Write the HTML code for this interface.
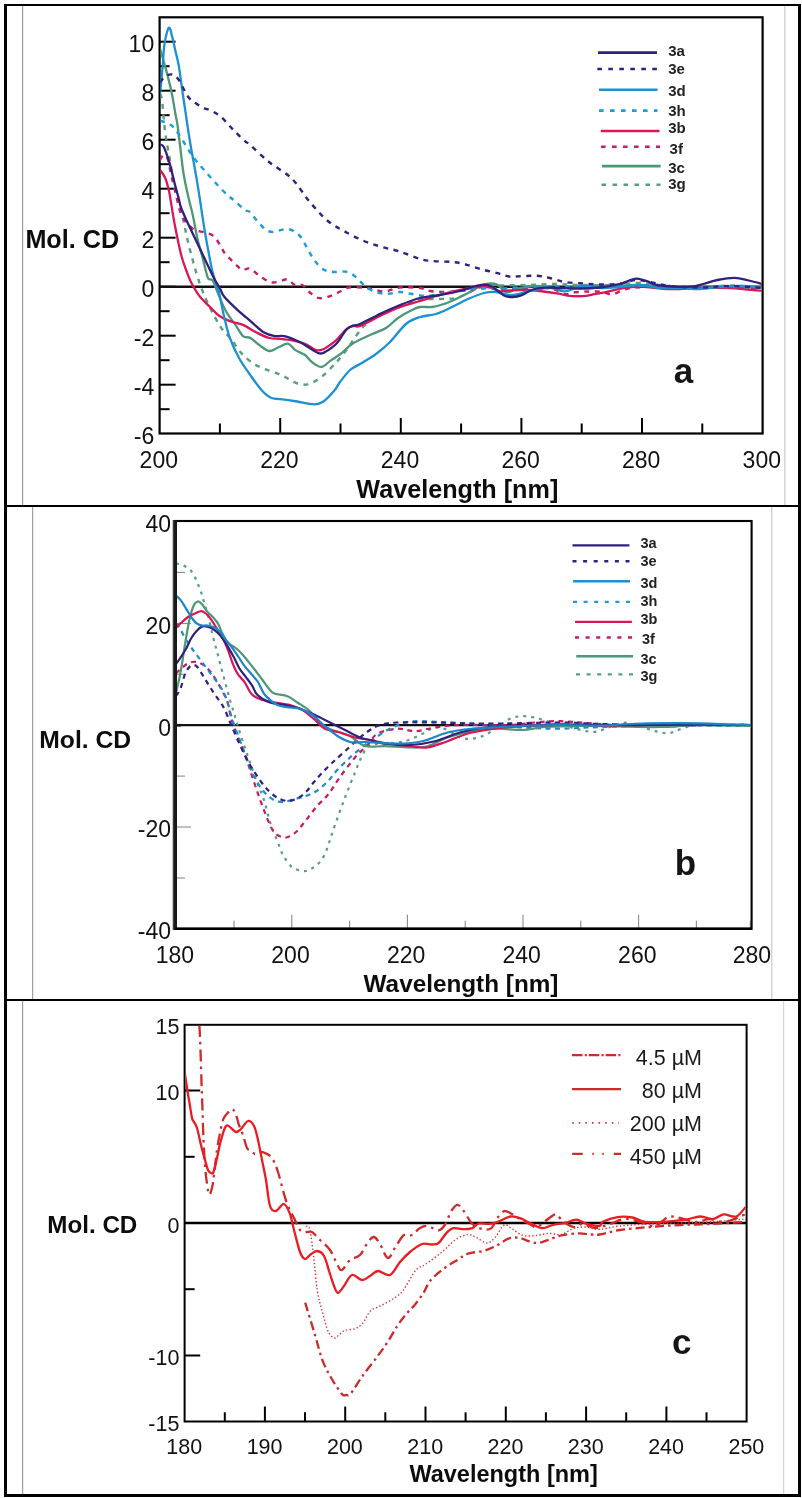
<!DOCTYPE html>
<html><head><meta charset="utf-8"><style>
html,body{margin:0;padding:0;background:#fff;width:802px;height:1498px;overflow:hidden}
svg{display:block;font-family:"Liberation Sans",sans-serif;will-change:transform}
</style></head><body>
<svg width="802" height="1498" viewBox="0 0 802 1498">
<rect width="802" height="1498" fill="#fff"/>
<rect x="22.0" y="6.0" width="1.2" height="499.0" fill="#a0a0a0"/>
<rect x="784.0" y="6.0" width="1.5" height="499.0" fill="#d4d4d4"/>
<rect x="32.0" y="507.0" width="1.2" height="492.0" fill="#a0a0a0"/>
<rect x="771.0" y="507.0" width="1.5" height="492.0" fill="#d4d4d4"/>
<rect x="22.0" y="1001.0" width="1.2" height="493.0" fill="#a0a0a0"/>
<rect x="783.0" y="1001.0" width="1.2" height="493.0" fill="#d4d4d4"/>
<rect x="4.0" y="4.0" width="796.0" height="2.0" fill="#000"/>
<rect x="4.0" y="4.0" width="3.0" height="1493.0" fill="#000"/>
<rect x="798.0" y="4.0" width="3.0" height="1493.0" fill="#000"/>
<rect x="4.0" y="1494.0" width="797.0" height="3.0" fill="#000"/>
<rect x="4.0" y="505.0" width="796.0" height="2.0" fill="#000"/>
<rect x="4.0" y="999.0" width="796.0" height="2.0" fill="#000"/>
<line x1="159.6" y1="409.2" x2="169.6" y2="409.2" stroke="#000" stroke-width="2.00" />
<line x1="159.6" y1="384.7" x2="175.6" y2="384.7" stroke="#000" stroke-width="2.00" />
<line x1="159.6" y1="360.2" x2="169.6" y2="360.2" stroke="#000" stroke-width="2.00" />
<line x1="159.6" y1="335.7" x2="175.6" y2="335.7" stroke="#000" stroke-width="2.00" />
<line x1="159.6" y1="311.2" x2="169.6" y2="311.2" stroke="#000" stroke-width="2.00" />
<line x1="159.6" y1="286.7" x2="175.6" y2="286.7" stroke="#000" stroke-width="2.00" />
<line x1="159.6" y1="262.2" x2="169.6" y2="262.2" stroke="#000" stroke-width="2.00" />
<line x1="159.6" y1="237.7" x2="175.6" y2="237.7" stroke="#000" stroke-width="2.00" />
<line x1="159.6" y1="213.2" x2="169.6" y2="213.2" stroke="#000" stroke-width="2.00" />
<line x1="159.6" y1="188.7" x2="175.6" y2="188.7" stroke="#000" stroke-width="2.00" />
<line x1="159.6" y1="164.2" x2="169.6" y2="164.2" stroke="#000" stroke-width="2.00" />
<line x1="159.6" y1="139.7" x2="175.6" y2="139.7" stroke="#000" stroke-width="2.00" />
<line x1="159.6" y1="115.2" x2="169.6" y2="115.2" stroke="#000" stroke-width="2.00" />
<line x1="159.6" y1="90.7" x2="175.6" y2="90.7" stroke="#000" stroke-width="2.00" />
<line x1="159.6" y1="66.2" x2="169.6" y2="66.2" stroke="#000" stroke-width="2.00" />
<line x1="159.6" y1="41.7" x2="175.6" y2="41.7" stroke="#000" stroke-width="2.00" />
<line x1="219.9" y1="433.5" x2="219.9" y2="423.5" stroke="#000" stroke-width="2.00" />
<line x1="280.2" y1="433.5" x2="280.2" y2="418.0" stroke="#000" stroke-width="2.00" />
<line x1="340.5" y1="433.5" x2="340.5" y2="423.5" stroke="#000" stroke-width="2.00" />
<line x1="400.8" y1="433.5" x2="400.8" y2="418.0" stroke="#000" stroke-width="2.00" />
<line x1="461.1" y1="433.5" x2="461.1" y2="423.5" stroke="#000" stroke-width="2.00" />
<line x1="521.4" y1="433.5" x2="521.4" y2="418.0" stroke="#000" stroke-width="2.00" />
<line x1="581.7" y1="433.5" x2="581.7" y2="423.5" stroke="#000" stroke-width="2.00" />
<line x1="642.0" y1="433.5" x2="642.0" y2="418.0" stroke="#000" stroke-width="2.00" />
<line x1="702.3" y1="433.5" x2="702.3" y2="423.5" stroke="#000" stroke-width="2.00" />
<rect x="159.6" y="17.3" width="603.0" height="416.2" fill="none" stroke="#000" stroke-width="2.2"/>
<line x1="159.6" y1="286.7" x2="762.6" y2="286.7" stroke="#111" stroke-width="2.60" />
<text x="154.2" y="443.6" font-size="23.0" font-weight="normal" text-anchor="end" fill="#111" >-6</text>
<text x="154.2" y="394.6" font-size="23.0" font-weight="normal" text-anchor="end" fill="#111" >-4</text>
<text x="154.2" y="345.6" font-size="23.0" font-weight="normal" text-anchor="end" fill="#111" >-2</text>
<text x="154.2" y="296.6" font-size="23.0" font-weight="normal" text-anchor="end" fill="#111" >0</text>
<text x="154.2" y="247.6" font-size="23.0" font-weight="normal" text-anchor="end" fill="#111" >2</text>
<text x="154.2" y="198.6" font-size="23.0" font-weight="normal" text-anchor="end" fill="#111" >4</text>
<text x="154.2" y="149.6" font-size="23.0" font-weight="normal" text-anchor="end" fill="#111" >6</text>
<text x="154.2" y="100.6" font-size="23.0" font-weight="normal" text-anchor="end" fill="#111" >8</text>
<text x="154.2" y="51.6" font-size="23.0" font-weight="normal" text-anchor="end" fill="#111" >10</text>
<text x="158.8" y="467.6" font-size="23.0" font-weight="normal" text-anchor="middle" fill="#111" >200</text>
<text x="279.4" y="467.6" font-size="23.0" font-weight="normal" text-anchor="middle" fill="#111" >220</text>
<text x="400.0" y="467.6" font-size="23.0" font-weight="normal" text-anchor="middle" fill="#111" >240</text>
<text x="520.6" y="467.6" font-size="23.0" font-weight="normal" text-anchor="middle" fill="#111" >260</text>
<text x="641.2" y="467.6" font-size="23.0" font-weight="normal" text-anchor="middle" fill="#111" >280</text>
<text x="761.8" y="467.6" font-size="23.0" font-weight="normal" text-anchor="middle" fill="#111" >300</text>
<text x="25.4" y="247.9" font-size="25.2" font-weight="bold" text-anchor="start" fill="#0d0d0d" >Mol. CD</text>
<text x="356.3" y="498.1" font-size="25.2" font-weight="bold" text-anchor="start" fill="#0d0d0d" >Wavelength [nm]</text>
<text x="673.8" y="382.5" font-size="35.0" font-weight="bold" text-anchor="start" fill="#151515" >a</text>
<path d="M598.0 52.6 L657.0 52.6" fill="none" stroke="#32207e" stroke-width="2.60" stroke-linejoin="round" />
<text x="668.2" y="55.8" font-size="15.0" font-weight="bold" text-anchor="start" fill="#222" >3a</text>
<path d="M597.3 69.0 L657.0 69.0" fill="none" stroke="#32207e" stroke-width="2.60" stroke-dasharray="4.6 6.4" stroke-linejoin="round" />
<text x="668.2" y="73.6" font-size="15.0" font-weight="bold" text-anchor="start" fill="#222" >3e</text>
<path d="M599.0 89.8 L657.5 89.8" fill="none" stroke="#1b90d2" stroke-width="2.60" stroke-linejoin="round" />
<text x="668.2" y="96.3" font-size="15.0" font-weight="bold" text-anchor="start" fill="#222" >3d</text>
<path d="M599.0 110.6 L657.5 110.6" fill="none" stroke="#1f9bd8" stroke-width="2.60" stroke-dasharray="4.6 6.4" stroke-linejoin="round" />
<text x="668.2" y="115.5" font-size="15.0" font-weight="bold" text-anchor="start" fill="#222" >3h</text>
<path d="M600.8 131.0 L659.5 131.0" fill="none" stroke="#da1656" stroke-width="2.60" stroke-linejoin="round" />
<text x="668.2" y="132.6" font-size="15.0" font-weight="bold" text-anchor="start" fill="#222" >3b</text>
<path d="M601.0 146.8 L660.0 146.8" fill="none" stroke="#c81a6a" stroke-width="2.60" stroke-dasharray="4.6 6.4" stroke-linejoin="round" />
<text x="669.6" y="153.9" font-size="15.0" font-weight="bold" text-anchor="start" fill="#222" >3f</text>
<path d="M602.0 166.1 L660.6 166.1" fill="none" stroke="#4c9876" stroke-width="2.60" stroke-linejoin="round" />
<text x="668.2" y="173.1" font-size="15.0" font-weight="bold" text-anchor="start" fill="#222" >3c</text>
<path d="M601.5 184.7 L660.5 184.7" fill="none" stroke="#5b9d80" stroke-width="2.60" stroke-dasharray="4.6 6.4" stroke-linejoin="round" />
<text x="668.2" y="188.8" font-size="15.0" font-weight="bold" text-anchor="start" fill="#222" >3g</text>
<g clip-path="url(#clipA)">
<clipPath id="clipA"><rect x="160.5" y="18.3" width="601" height="414"/></clipPath>
<path d="M160.0 94.0 C160.3 95.0 161.2 93.8 162.0 100.0 C162.8 106.2 163.9 122.0 165.0 131.0 C166.1 140.0 167.3 145.4 168.8 153.8 C170.2 162.1 172.3 174.4 173.8 181.2 C175.2 188.1 175.8 188.1 177.5 195.0 C179.2 201.9 181.9 214.2 183.8 222.5 C185.6 230.8 186.7 236.7 188.8 245.0 C190.8 253.3 194.0 264.8 196.2 272.5 C198.5 280.2 200.6 286.0 202.5 291.0 C204.4 296.0 205.4 298.0 207.5 302.4 C209.6 306.8 212.5 312.9 215.0 317.4 C217.5 321.9 219.6 325.8 222.4 329.5 C225.2 333.2 228.7 335.9 231.8 339.8 C234.9 343.7 237.4 348.8 241.1 352.9 C244.8 356.9 249.5 361.1 254.2 364.1 C258.9 367.1 264.5 368.8 269.2 370.7 C273.9 372.6 278.1 373.4 282.2 375.3 C286.2 377.2 290.1 380.3 293.5 381.9 C296.9 383.5 299.7 384.5 302.8 384.7 C305.9 384.9 308.7 384.4 312.1 382.8 C315.5 381.2 319.6 378.4 323.4 375.3 C327.1 372.2 331.8 367.0 334.6 364.1 C337.4 361.2 337.8 360.7 340.0 358.0 C342.2 355.3 345.3 351.7 348.0 348.0 C350.7 344.3 353.3 339.7 356.0 336.0 C358.7 332.3 361.0 329.0 364.0 326.0 C367.0 323.0 370.7 320.3 374.0 318.0 C377.3 315.7 379.7 313.8 384.0 312.0 C388.3 310.2 394.0 309.0 400.0 307.0 C406.0 305.0 413.3 301.3 420.0 300.0 C426.7 298.7 434.0 299.3 440.0 299.0 C446.0 298.7 451.0 299.2 456.0 298.0 C461.0 296.8 465.3 294.0 470.0 292.0 C474.7 290.0 479.7 287.1 484.0 286.0 C488.3 284.9 488.8 285.7 496.0 285.5 C503.2 285.3 517.2 285.2 527.0 285.0 C536.8 284.8 546.2 284.0 555.0 284.0 C563.8 284.0 570.8 284.8 580.0 285.0 C589.2 285.2 600.0 285.3 610.0 285.0 C620.0 284.7 630.0 282.8 640.0 283.0 C650.0 283.2 660.0 285.3 670.0 286.0 C680.0 286.7 690.0 287.1 700.0 287.0 C710.0 286.9 719.6 285.5 730.0 285.5 C740.4 285.5 757.2 286.8 762.6 287.0" fill="none" stroke="#5b9d80" stroke-width="2.40" stroke-dasharray="5 5.5" stroke-linejoin="round" />
<path d="M160.0 48.8 C160.8 51.6 163.1 59.0 165.0 66.0 C166.9 73.0 169.5 82.4 171.2 90.6 C173.0 98.8 174.6 109.3 175.6 115.0 C176.6 120.7 176.7 119.2 177.5 125.0 C178.3 130.8 179.6 141.7 180.6 150.0 C181.6 158.3 182.4 166.9 183.8 175.0 C185.1 183.1 187.3 192.3 188.8 198.8 C190.2 205.2 191.0 207.1 192.5 213.8 C194.0 220.4 195.8 231.5 197.5 238.8 C199.2 246.0 200.8 251.1 202.5 257.5 C204.2 263.9 206.2 273.2 207.5 276.9 C208.8 280.5 209.1 278.7 210.0 279.4 C210.9 280.1 211.6 278.4 213.0 281.0 C214.4 283.6 216.5 289.9 218.7 295.0 C220.9 300.1 223.4 306.8 226.2 311.8 C229.0 316.8 232.7 320.8 235.5 324.9 C238.3 328.9 240.5 333.9 243.0 336.1 C245.5 338.3 247.7 336.4 250.5 338.0 C253.3 339.6 256.7 343.2 259.8 345.4 C262.9 347.6 266.1 350.7 269.2 351.0 C272.3 351.3 275.4 348.5 278.5 347.3 C281.6 346.1 285.1 343.1 287.9 343.6 C290.7 344.1 292.5 348.2 295.3 350.1 C298.1 352.0 301.9 352.8 304.7 354.8 C307.5 356.8 309.3 360.2 312.1 362.2 C314.9 364.2 318.4 367.2 321.5 366.9 C324.6 366.6 327.4 362.7 330.8 360.4 C334.2 358.1 338.5 355.6 342.0 352.9 C345.5 350.2 347.3 347.0 352.0 344.0 C356.7 341.0 364.3 337.7 370.0 335.0 C375.7 332.3 381.3 330.8 386.0 328.0 C390.7 325.2 393.7 321.0 398.0 318.0 C402.3 315.0 408.3 311.8 412.0 310.0 C415.7 308.2 416.7 307.5 420.0 307.0 C423.3 306.5 428.0 307.5 432.0 307.0 C436.0 306.5 440.0 305.3 444.0 304.0 C448.0 302.7 451.7 301.0 456.0 299.0 C460.3 297.0 466.0 294.2 470.0 292.0 C474.0 289.8 477.0 287.4 480.0 286.0 C483.0 284.6 485.1 283.8 488.0 283.6 C490.9 283.4 494.4 283.4 497.5 284.9 C500.6 286.3 503.4 291.7 506.8 292.3 C510.2 292.9 513.0 289.7 518.0 288.6 C523.0 287.5 530.5 285.8 536.7 285.8 C542.9 285.8 548.2 288.4 555.4 288.6 C562.6 288.8 570.9 287.4 580.0 287.0 C589.1 286.6 600.0 286.3 610.0 286.0 C620.0 285.7 630.0 284.8 640.0 285.0 C650.0 285.2 660.0 286.5 670.0 287.0 C680.0 287.5 690.0 288.1 700.0 288.0 C710.0 287.9 719.6 286.6 730.0 286.5 C740.4 286.4 757.2 287.3 762.6 287.5" fill="none" stroke="#4c9876" stroke-width="2.30" stroke-linejoin="round" />
<path d="M160.0 160.0 C160.4 159.3 161.7 156.8 162.5 156.0 C163.3 155.2 164.1 154.3 165.0 155.0 C165.9 155.7 167.0 156.7 168.0 160.0 C169.0 163.3 169.9 169.2 171.2 175.0 C172.6 180.8 174.4 188.5 176.0 195.0 C177.6 201.5 179.1 209.0 181.0 213.8 C182.9 218.5 185.2 221.0 187.5 223.8 C189.8 226.5 192.1 228.5 195.0 230.0 C197.9 231.5 201.9 231.5 205.0 232.5 C208.1 233.5 211.2 234.2 213.8 236.2 C216.2 238.3 218.1 242.1 220.0 245.0 C221.9 247.9 223.1 251.2 225.0 253.8 C226.9 256.2 229.2 257.9 231.2 260.0 C233.3 262.1 235.6 264.6 237.5 266.2 C239.4 267.9 240.4 269.6 242.5 270.0 C244.6 270.4 247.2 267.6 250.0 268.5 C252.8 269.4 255.9 273.4 259.3 275.7 C262.7 278.0 267.2 281.3 270.6 282.2 C274.0 283.1 277.1 281.8 279.9 281.3 C282.7 280.8 284.9 278.8 287.4 279.4 C289.9 280.0 292.4 284.1 294.9 285.0 C297.4 285.9 299.8 283.8 302.3 285.0 C304.8 286.2 307.0 290.3 309.8 292.5 C312.6 294.7 315.5 297.6 319.2 298.1 C322.9 298.6 328.5 296.5 332.2 295.3 C335.9 294.1 338.8 292.0 341.6 290.7 C344.4 289.4 345.6 288.0 349.0 287.5 C352.4 287.0 358.4 287.3 362.1 287.5 C365.9 287.7 367.8 288.1 371.5 288.8 C375.2 289.5 379.9 291.8 384.6 291.6 C389.3 291.4 393.6 288.1 399.5 287.5 C405.4 286.9 414.9 287.4 420.0 288.0 C425.1 288.6 426.0 290.3 430.0 291.0 C434.0 291.7 439.0 292.0 444.0 292.0 C449.0 292.0 454.7 291.5 460.0 291.0 C465.3 290.5 471.0 289.5 476.0 289.0 C481.0 288.5 486.0 287.8 490.0 288.0 C494.0 288.2 493.3 290.0 500.0 290.0 C506.7 290.0 521.4 288.2 530.0 288.0 C538.6 287.8 545.9 287.6 551.7 288.6 C557.5 289.6 561.1 293.6 564.8 294.2 C568.5 294.8 569.0 292.8 574.0 292.3 C579.0 291.8 589.6 291.3 594.7 291.4 C599.9 291.5 602.0 292.2 604.9 292.7 C607.8 293.2 609.3 294.6 612.3 294.2 C615.3 293.8 619.0 291.5 622.8 290.4 C626.5 289.3 626.9 288.1 634.8 287.5 C642.7 286.9 659.1 286.9 670.0 287.0 C680.9 287.1 690.0 287.9 700.0 288.0 C710.0 288.1 719.6 287.3 730.0 287.5 C740.4 287.7 757.2 288.8 762.6 289.0" fill="none" stroke="#c81a6a" stroke-width="2.40" stroke-dasharray="5 5.5" stroke-linejoin="round" />
<path d="M160.0 170.0 C160.8 171.2 163.5 174.2 165.0 177.5 C166.5 180.8 167.8 186.2 168.8 190.0 C169.7 193.8 169.6 194.0 170.6 200.0 C171.6 206.0 173.2 216.8 175.0 226.0 C176.8 235.2 179.2 247.0 181.2 255.0 C183.3 263.0 185.6 268.8 187.5 273.8 C189.4 278.8 190.4 281.2 192.5 285.0 C194.6 288.8 197.2 293.3 200.0 296.8 C202.8 300.3 206.2 303.1 209.3 306.2 C212.4 309.3 215.3 313.0 218.7 315.5 C222.1 318.0 225.8 319.5 229.9 321.1 C234.0 322.7 238.6 323.0 243.0 324.9 C247.4 326.8 251.7 330.1 256.1 332.3 C260.5 334.5 265.1 336.9 269.2 338.0 C273.2 339.1 276.3 338.4 280.4 338.9 C284.4 339.3 289.1 339.8 293.5 340.7 C297.9 341.6 302.8 342.9 306.5 344.5 C310.2 346.1 313.1 349.3 315.9 350.1 C318.7 350.9 320.3 350.6 323.4 349.2 C326.5 347.8 331.8 343.9 334.6 341.7 C337.4 339.5 337.8 338.3 340.0 336.0 C342.2 333.7 345.7 329.7 348.0 328.0 C350.3 326.3 352.0 326.3 354.0 326.0 C356.0 325.7 355.7 327.7 360.0 326.0 C364.3 324.3 373.3 319.2 380.0 316.0 C386.7 312.8 393.3 309.5 400.0 307.0 C406.7 304.5 413.3 303.0 420.0 301.0 C426.7 299.0 433.3 296.8 440.0 295.0 C446.7 293.2 453.3 291.3 460.0 290.0 C466.7 288.7 474.7 287.3 480.0 287.0 C485.3 286.7 488.8 287.3 492.0 288.0 C495.2 288.7 496.5 291.0 499.3 291.4 C502.1 291.8 503.6 290.7 508.7 290.5 C513.8 290.3 522.0 289.5 530.0 290.0 C538.0 290.5 550.8 292.4 557.0 293.4 C563.2 294.3 563.2 295.2 567.4 295.7 C571.6 296.1 577.9 296.4 582.4 296.1 C586.9 295.9 590.9 294.8 594.4 294.2 C597.9 293.6 599.0 293.6 603.4 292.7 C607.8 291.8 614.8 289.6 620.8 288.6 C626.8 287.6 631.3 286.6 639.5 286.7 C647.7 286.8 659.9 288.8 670.0 289.0 C680.1 289.2 690.0 288.2 700.0 288.0 C710.0 287.8 719.6 287.5 730.0 288.0 C740.4 288.5 757.2 290.5 762.6 291.0" fill="none" stroke="#da1656" stroke-width="2.30" stroke-linejoin="round" />
<path d="M160.0 120.6 C161.8 121.3 167.7 122.4 171.0 125.0 C174.3 127.6 176.4 130.8 180.0 136.0 C183.6 141.2 188.3 150.2 192.5 156.0 C196.7 161.8 200.8 166.2 205.0 171.0 C209.2 175.8 213.8 181.0 217.5 185.0 C221.2 189.0 224.6 192.3 227.5 195.0 C230.4 197.7 232.1 198.8 235.0 201.2 C237.9 203.8 242.5 208.2 245.0 210.0 C247.5 211.8 247.6 209.9 250.0 212.1 C252.4 214.3 255.9 220.1 259.3 223.4 C262.7 226.7 265.9 230.9 270.6 231.8 C275.3 232.7 282.7 228.5 287.4 229.0 C292.1 229.5 295.5 231.8 298.6 234.6 C301.7 237.4 303.5 241.8 306.0 245.8 C308.5 249.9 310.7 255.0 313.5 258.9 C316.3 262.8 319.5 267.0 322.9 269.2 C326.3 271.4 330.1 271.6 334.1 272.0 C338.2 272.4 343.5 270.9 347.2 271.8 C350.9 272.7 353.4 275.1 356.5 277.6 C359.6 280.1 362.5 284.5 365.9 287.0 C369.3 289.5 373.4 291.4 377.1 292.5 C380.8 293.6 384.6 293.9 388.3 293.8 C392.0 293.7 395.6 292.0 399.5 292.0 C403.4 292.0 407.6 293.3 412.0 294.0 C416.4 294.7 421.3 296.0 426.0 296.0 C430.7 296.0 435.3 294.7 440.0 294.0 C444.7 293.3 449.3 292.7 454.0 292.0 C458.7 291.3 463.7 290.7 468.0 290.0 C472.3 289.3 474.7 288.2 480.0 288.0 C485.3 287.8 491.7 288.7 500.0 288.5 C508.3 288.3 520.0 287.2 530.0 287.0 C540.0 286.8 548.3 287.1 560.0 287.0 C571.7 286.9 586.7 286.8 600.0 286.5 C613.3 286.2 626.7 285.3 640.0 285.5 C653.3 285.7 666.7 287.2 680.0 287.5 C693.3 287.8 706.2 287.0 720.0 287.0 C733.8 287.0 755.5 287.4 762.6 287.5" fill="none" stroke="#1f9bd8" stroke-width="2.40" stroke-dasharray="5 5.5" stroke-linejoin="round" />
<path d="M160.0 94.0 C160.3 91.3 161.1 83.0 161.6 78.0 C162.1 73.0 162.4 68.7 162.8 64.0 C163.2 59.3 163.5 53.8 163.8 50.0 C164.2 46.2 164.5 44.1 164.9 41.5 C165.3 38.9 165.8 36.8 166.4 34.5 C167.0 32.2 168.0 28.6 168.7 27.8 C169.4 27.0 169.9 28.3 170.4 29.5 C170.9 30.7 171.2 33.0 171.7 35.0 C172.2 37.0 172.8 39.0 173.4 41.5 C174.0 44.0 174.3 45.9 175.2 50.0 C176.1 54.1 177.6 59.2 178.8 66.0 C180.0 72.8 181.2 82.9 182.3 90.6 C183.4 98.3 184.3 104.2 185.5 112.0 C186.7 119.8 188.1 130.2 189.3 137.5 C190.5 144.8 191.2 148.8 192.5 156.0 C193.8 163.2 195.8 173.7 197.0 181.0 C198.2 188.3 198.7 191.4 200.0 200.0 C201.3 208.6 203.1 221.5 205.0 232.5 C206.9 243.5 209.6 257.9 211.2 266.0 C212.9 274.1 213.8 276.8 215.0 281.0 C216.2 285.2 217.1 284.9 218.7 291.0 C220.2 297.1 222.4 309.6 224.3 317.4 C226.2 325.2 227.4 331.1 229.9 338.0 C232.4 344.9 235.9 352.3 239.3 358.5 C242.7 364.7 246.8 370.0 250.5 375.3 C254.2 380.6 258.3 386.6 261.7 390.3 C265.1 394.1 267.3 396.2 271.0 397.8 C274.7 399.4 279.7 399.0 284.1 399.6 C288.5 400.2 292.2 400.7 297.2 401.5 C302.2 402.3 309.6 404.3 314.0 404.3 C318.4 404.3 320.0 403.8 323.4 401.5 C326.8 399.2 331.8 393.6 334.6 390.3 C337.4 387.1 337.4 385.4 340.0 382.0 C342.6 378.6 346.7 373.0 350.0 370.0 C353.3 367.0 355.7 366.7 360.0 364.0 C364.3 361.3 371.0 357.7 376.0 354.0 C381.0 350.3 385.0 347.0 390.0 342.0 C395.0 337.0 401.0 328.2 406.0 324.0 C411.0 319.8 415.0 318.7 420.0 317.0 C425.0 315.3 430.7 315.7 436.0 314.0 C441.3 312.3 446.7 309.5 452.0 307.0 C457.3 304.5 462.7 301.3 468.0 299.0 C473.3 296.7 479.3 294.2 484.0 293.0 C488.7 291.8 491.9 291.6 496.0 292.0 C500.1 292.4 505.0 294.7 508.7 295.1 C512.4 295.5 514.9 294.8 518.0 294.2 C521.1 293.6 523.4 292.3 527.4 291.4 C531.4 290.5 538.2 289.2 542.3 288.6 C546.3 288.0 548.0 287.2 551.7 287.7 C555.5 288.2 559.5 291.7 564.8 291.4 C570.1 291.1 577.6 286.6 583.5 286.0 C589.4 285.4 593.9 287.8 600.0 288.0 C606.1 288.2 613.3 287.5 620.0 287.0 C626.7 286.5 633.3 284.8 640.0 285.0 C646.7 285.2 653.3 287.5 660.0 288.0 C666.7 288.5 673.3 287.8 680.0 288.0 C686.7 288.2 693.3 289.2 700.0 289.0 C706.7 288.8 713.3 287.5 720.0 287.0 C726.7 286.5 732.9 285.8 740.0 286.0 C747.1 286.2 758.8 287.7 762.6 288.0" fill="none" stroke="#1b90d2" stroke-width="2.30" stroke-linejoin="round" />
<path d="M160.0 82.5 C160.8 81.5 163.0 77.8 165.0 76.5 C167.0 75.2 169.8 74.0 172.0 74.5 C174.2 75.0 176.3 76.7 178.5 79.5 C180.7 82.3 183.2 88.3 185.0 91.5 C186.8 94.7 188.0 96.8 189.5 98.5 C191.0 100.2 191.8 100.5 194.0 102.0 C196.2 103.5 199.7 106.1 202.5 107.5 C205.3 108.9 208.1 109.2 211.0 110.6 C213.9 112.0 217.0 113.6 220.0 116.0 C223.0 118.4 226.1 122.2 228.8 125.0 C231.4 127.8 233.3 129.8 236.0 132.5 C238.7 135.2 242.7 139.2 245.0 141.2 C247.3 143.3 246.1 141.5 250.0 144.9 C253.9 148.3 262.5 156.7 268.7 161.7 C274.9 166.7 282.7 171.1 287.4 174.8 C292.1 178.5 293.6 180.4 296.7 184.1 C299.8 187.8 302.9 193.1 306.0 197.2 C309.1 201.2 311.6 204.3 315.4 208.4 C319.1 212.5 323.8 217.8 328.5 221.5 C333.2 225.2 337.9 227.7 343.5 230.8 C349.1 233.9 355.9 237.5 362.1 240.2 C368.3 242.8 374.6 244.8 380.8 246.7 C387.0 248.6 393.0 249.3 399.5 251.4 C406.0 253.5 414.6 257.4 420.0 259.0 C425.4 260.6 426.7 260.5 432.0 261.0 C437.3 261.5 446.7 261.5 452.0 262.0 C457.3 262.5 459.3 262.8 464.0 264.0 C468.7 265.2 474.1 267.4 480.0 269.0 C485.9 270.6 494.5 272.4 499.3 273.6 C504.1 274.8 505.6 275.9 508.7 276.4 C511.8 276.9 513.3 276.5 518.0 276.4 C522.7 276.3 531.4 275.5 536.7 275.8 C542.0 276.1 545.1 277.0 549.8 278.0 C554.5 279.0 559.2 281.1 564.8 282.0 C570.4 282.9 577.3 283.1 583.5 283.5 C589.7 283.9 595.8 284.5 602.0 284.5 C608.2 284.5 615.2 284.2 620.8 283.5 C626.4 282.8 630.9 280.2 635.8 280.0 C640.7 279.8 644.3 281.0 650.0 282.0 C655.7 283.0 661.7 285.1 670.0 286.0 C678.3 286.9 690.0 287.5 700.0 287.5 C710.0 287.5 719.6 285.9 730.0 286.0 C740.4 286.1 757.2 287.7 762.6 288.0" fill="none" stroke="#32207e" stroke-width="2.40" stroke-dasharray="5 5.5" stroke-linejoin="round" />
<path d="M160.0 144.4 C160.6 144.8 162.2 144.0 163.8 147.0 C165.3 150.0 167.7 157.0 169.4 162.5 C171.1 168.0 172.2 174.0 173.8 180.0 C175.3 186.0 177.5 194.2 178.8 198.8 C180.0 203.3 179.5 203.5 181.0 207.5 C182.5 211.5 184.3 215.6 187.5 222.5 C190.7 229.4 196.5 241.2 200.0 248.8 C203.5 256.2 206.2 262.3 208.8 267.5 C211.2 272.7 213.1 276.5 215.0 280.0 C216.9 283.5 218.4 285.7 220.0 288.5 C221.6 291.3 221.4 293.2 224.3 296.8 C227.2 300.4 233.0 305.8 237.4 309.9 C241.8 313.9 246.1 317.4 250.5 321.1 C254.9 324.8 259.6 329.8 263.6 332.3 C267.7 334.8 271.4 335.5 274.8 336.1 C278.2 336.7 280.1 335.2 284.1 336.1 C288.2 337.0 295.1 339.8 299.1 341.7 C303.2 343.6 305.3 345.4 308.4 347.3 C311.5 349.2 315.3 352.0 317.8 352.9 C320.3 353.8 320.6 354.1 323.4 352.9 C326.2 351.6 331.8 347.7 334.6 345.4 C337.4 343.1 338.1 341.6 340.0 339.0 C341.9 336.4 344.0 332.2 346.0 330.0 C348.0 327.8 349.7 327.0 352.0 326.0 C354.3 325.0 355.3 326.0 360.0 324.0 C364.7 322.0 373.3 317.2 380.0 314.0 C386.7 310.8 393.3 307.7 400.0 305.0 C406.7 302.3 413.3 299.7 420.0 298.0 C426.7 296.3 433.3 296.2 440.0 295.0 C446.7 293.8 454.0 292.5 460.0 291.0 C466.0 289.5 471.3 287.0 476.0 286.0 C480.7 285.0 484.4 284.2 488.0 285.0 C491.6 285.8 494.7 288.7 497.5 290.5 C500.3 292.3 502.5 294.9 505.0 296.0 C507.5 297.1 509.6 297.1 512.4 297.0 C515.2 296.9 518.4 296.4 521.8 295.1 C525.2 293.9 529.0 290.7 533.0 289.5 C537.0 288.3 541.5 287.9 546.0 287.7 C550.5 287.4 554.3 287.9 560.0 288.0 C565.7 288.1 573.3 288.6 580.0 288.5 C586.7 288.4 593.3 288.2 600.0 287.5 C606.7 286.8 614.7 285.3 620.0 284.0 C625.3 282.7 628.9 280.4 632.0 279.5 C635.1 278.6 636.1 278.5 638.7 278.8 C641.3 279.1 644.6 280.4 647.5 281.4 C650.4 282.4 651.9 284.0 656.2 284.9 C660.6 285.8 667.8 286.3 673.6 286.6 C679.4 286.9 686.2 287.0 691.1 286.6 C696.0 286.2 698.9 285.1 703.3 284.0 C707.7 282.9 712.1 281.0 717.3 280.0 C722.5 279.0 729.5 277.8 734.7 277.9 C739.9 278.0 744.1 279.5 748.7 280.5 C753.4 281.5 760.3 283.4 762.6 284.0" fill="none" stroke="#32207e" stroke-width="2.30" stroke-linejoin="round" />
</g>
<line x1="177.0" y1="572.4" x2="185.0" y2="572.4" stroke="#8a8a8a" stroke-width="1.10" />
<line x1="177.0" y1="674.3" x2="185.0" y2="674.3" stroke="#8a8a8a" stroke-width="1.10" />
<line x1="177.0" y1="776.1" x2="185.0" y2="776.1" stroke="#8a8a8a" stroke-width="1.10" />
<line x1="177.0" y1="878.0" x2="185.0" y2="878.0" stroke="#8a8a8a" stroke-width="1.10" />
<line x1="177.0" y1="623.4" x2="191.0" y2="623.4" stroke="#8a8a8a" stroke-width="1.10" />
<line x1="177.0" y1="827.0" x2="191.0" y2="827.0" stroke="#8a8a8a" stroke-width="1.10" />
<line x1="234.0" y1="928.8" x2="234.0" y2="920.8" stroke="#8a8a8a" stroke-width="1.10" />
<line x1="291.8" y1="928.8" x2="291.8" y2="914.8" stroke="#8a8a8a" stroke-width="1.10" />
<line x1="349.6" y1="928.8" x2="349.6" y2="920.8" stroke="#8a8a8a" stroke-width="1.10" />
<line x1="407.4" y1="928.8" x2="407.4" y2="914.8" stroke="#8a8a8a" stroke-width="1.10" />
<line x1="465.2" y1="928.8" x2="465.2" y2="920.8" stroke="#8a8a8a" stroke-width="1.10" />
<line x1="523.0" y1="928.8" x2="523.0" y2="914.8" stroke="#8a8a8a" stroke-width="1.10" />
<line x1="580.8" y1="928.8" x2="580.8" y2="920.8" stroke="#8a8a8a" stroke-width="1.10" />
<line x1="638.6" y1="928.8" x2="638.6" y2="914.8" stroke="#8a8a8a" stroke-width="1.10" />
<line x1="696.4" y1="928.8" x2="696.4" y2="920.8" stroke="#8a8a8a" stroke-width="1.10" />
<line x1="750.3" y1="928.8" x2="750.3" y2="920.8" stroke="#8a8a8a" stroke-width="1.10" />
<rect x="175.0" y="521.0" width="576.6" height="407.8" fill="none" stroke="#000" stroke-width="2.1"/>
<rect x="173.0" y="520.0" width="4.0" height="410.0" fill="#1a1a1a"/>
<rect x="172.6" y="520.0" width="0.8" height="410.0" fill="#777"/>
<line x1="175.0" y1="928.8" x2="751.6" y2="928.8" stroke="#000" stroke-width="2.60" />
<line x1="177.0" y1="725.2" x2="751.6" y2="725.2" stroke="#111" stroke-width="2.20" />
<line x1="177.0" y1="725.2" x2="181.0" y2="725.2" stroke="#111" stroke-width="2.60" />
<text x="171.0" y="531.9" font-size="23.0" font-weight="normal" text-anchor="end" fill="#111" >40</text>
<text x="171.0" y="633.8" font-size="23.0" font-weight="normal" text-anchor="end" fill="#111" >20</text>
<text x="171.0" y="735.6" font-size="23.0" font-weight="normal" text-anchor="end" fill="#111" >0</text>
<text x="171.0" y="837.4" font-size="23.0" font-weight="normal" text-anchor="end" fill="#111" >-20</text>
<text x="171.0" y="939.3" font-size="23.0" font-weight="normal" text-anchor="end" fill="#111" >-40</text>
<text x="174.9" y="963.0" font-size="23.0" font-weight="normal" text-anchor="middle" fill="#111" >180</text>
<text x="290.5" y="963.0" font-size="23.0" font-weight="normal" text-anchor="middle" fill="#111" >200</text>
<text x="406.1" y="963.0" font-size="23.0" font-weight="normal" text-anchor="middle" fill="#111" >220</text>
<text x="521.7" y="963.0" font-size="23.0" font-weight="normal" text-anchor="middle" fill="#111" >240</text>
<text x="637.3" y="963.0" font-size="23.0" font-weight="normal" text-anchor="middle" fill="#111" >260</text>
<text x="751.9" y="963.0" font-size="23.0" font-weight="normal" text-anchor="middle" fill="#111" >280</text>
<text x="39.3" y="748.0" font-size="24.7" font-weight="bold" text-anchor="start" fill="#0d0d0d" >Mol. CD</text>
<text x="363.6" y="991.5" font-size="24.3" font-weight="bold" text-anchor="start" fill="#0d0d0d" >Wavelength [nm]</text>
<text x="674.8" y="875.0" font-size="35.0" font-weight="bold" text-anchor="start" fill="#151515" >b</text>
<path d="M572.5 545.4 L629.4 545.4" fill="none" stroke="#32207e" stroke-width="2.40" stroke-linejoin="round" />
<text x="640.4" y="547.5" font-size="14.5" font-weight="bold" text-anchor="start" fill="#222" >3a</text>
<path d="M572.5 561.2 L629.5 561.2" fill="none" stroke="#32207e" stroke-width="2.40" stroke-dasharray="4 6.6" stroke-linejoin="round" />
<text x="640.4" y="565.6" font-size="14.5" font-weight="bold" text-anchor="start" fill="#222" >3e</text>
<path d="M573.1 581.2 L630.0 581.2" fill="none" stroke="#1b90d2" stroke-width="2.40" stroke-linejoin="round" />
<text x="640.4" y="588.1" font-size="14.5" font-weight="bold" text-anchor="start" fill="#222" >3d</text>
<path d="M573.0 601.9 L630.0 601.9" fill="none" stroke="#1f9bd8" stroke-width="2.40" stroke-dasharray="4 6.6" stroke-linejoin="round" />
<text x="640.4" y="606.2" font-size="14.5" font-weight="bold" text-anchor="start" fill="#222" >3h</text>
<path d="M575.0 621.9 L631.9 621.9" fill="none" stroke="#da1656" stroke-width="2.40" stroke-linejoin="round" />
<text x="640.4" y="624.4" font-size="14.5" font-weight="bold" text-anchor="start" fill="#222" >3b</text>
<path d="M575.0 637.5 L632.5 637.5" fill="none" stroke="#c81a6a" stroke-width="2.40" stroke-dasharray="4 6.6" stroke-linejoin="round" />
<text x="641.9" y="644.4" font-size="14.5" font-weight="bold" text-anchor="start" fill="#222" >3f</text>
<path d="M576.2 656.2 L633.1 656.2" fill="none" stroke="#4c9876" stroke-width="2.40" stroke-linejoin="round" />
<text x="640.4" y="663.8" font-size="14.5" font-weight="bold" text-anchor="start" fill="#222" >3c</text>
<path d="M576.0 674.4 L633.0 674.4" fill="none" stroke="#5b9d80" stroke-width="2.40" stroke-dasharray="4 6.6" stroke-linejoin="round" />
<text x="640.4" y="680.6" font-size="14.5" font-weight="bold" text-anchor="start" fill="#222" >3g</text>
<clipPath id="clipB"><rect x="177" y="522" width="573.6" height="405.8"/></clipPath>
<g clip-path="url(#clipB)">
<path d="M176.0 563.5 C177.1 563.8 180.3 564.0 182.7 565.1 C185.1 566.2 188.1 568.0 190.2 570.0 C192.2 572.0 193.6 574.7 195.0 577.4 C196.4 580.1 197.5 583.1 198.7 586.0 C199.8 588.9 201.0 591.8 201.9 594.5 C202.8 597.2 202.9 598.2 204.0 602.0 C205.1 605.8 206.9 611.5 208.3 617.0 C209.7 622.5 211.2 629.4 212.6 635.1 C214.0 640.8 215.5 645.9 216.9 651.2 C218.3 656.6 219.7 661.9 221.1 667.2 C222.5 672.5 224.0 677.9 225.4 683.2 C226.8 688.5 228.3 694.2 229.7 699.2 C231.1 704.2 232.7 708.8 234.0 713.1 C235.3 717.4 235.8 719.7 237.5 725.0 C239.2 730.3 241.9 738.8 244.0 745.0 C246.1 751.2 247.8 756.3 250.0 762.5 C252.2 768.7 254.7 775.8 257.0 782.0 C259.3 788.2 261.8 793.3 264.0 800.0 C266.2 806.7 267.8 815.3 270.0 822.0 C272.2 828.7 274.8 834.5 277.0 840.0 C279.2 845.5 280.5 850.5 283.0 855.0 C285.5 859.5 288.7 864.3 292.0 867.0 C295.3 869.7 300.0 870.6 303.0 871.0 C306.0 871.4 307.5 870.7 310.0 869.5 C312.5 868.3 315.7 866.2 318.0 864.0 C320.3 861.8 322.2 859.5 324.0 856.0 C325.8 852.5 327.2 848.2 329.0 843.0 C330.8 837.8 332.3 832.6 335.0 825.0 C337.7 817.4 341.7 806.2 345.0 797.5 C348.3 788.8 352.2 779.4 355.0 772.5 C357.8 765.6 359.5 760.6 362.0 756.0 C364.5 751.4 366.2 747.0 370.0 745.0 C373.8 743.0 379.2 744.3 385.0 743.7 C390.8 743.1 398.8 742.9 405.0 741.2 C411.2 739.5 417.5 736.0 422.5 733.7 C427.5 731.4 430.8 728.1 435.0 727.5 C439.2 726.9 443.3 728.3 447.5 730.0 C451.7 731.7 455.8 736.0 460.0 737.5 C464.2 739.0 468.3 739.1 472.5 738.7 C476.7 738.3 480.8 736.9 485.0 735.0 C489.2 733.1 493.3 730.2 497.5 727.5 C501.7 724.8 505.8 720.6 510.0 718.7 C514.2 716.8 518.3 716.4 522.5 716.2 C526.7 716.0 530.8 716.7 535.0 717.5 C539.2 718.3 543.3 720.2 547.5 721.2 C551.7 722.2 555.1 722.4 560.0 723.7 C564.9 725.0 571.2 727.6 577.0 729.0 C582.8 730.4 589.0 732.2 594.5 731.9 C600.0 731.6 604.8 728.5 610.0 727.0 C615.2 725.5 619.7 722.4 626.0 722.7 C632.3 723.0 641.0 727.2 648.0 729.0 C655.0 730.8 661.9 733.4 667.8 733.2 C673.7 733.0 678.1 729.4 683.5 728.0 C688.9 726.6 688.8 725.5 700.0 725.0 C711.2 724.5 742.5 725.0 751.0 725.0" fill="none" stroke="#5b9d80" stroke-width="2.20" stroke-dasharray="3 5" stroke-linejoin="round" />
<path d="M176.0 673.6 C177.1 672.5 180.5 669.0 182.7 667.2 C184.9 665.4 187.0 663.8 189.1 662.9 C191.2 662.0 193.4 661.6 195.5 661.8 C197.6 662.0 199.9 662.9 201.9 664.0 C203.9 665.1 205.5 666.4 207.3 668.2 C209.1 670.0 210.8 672.2 212.6 674.7 C214.4 677.2 216.1 680.2 217.9 683.2 C219.7 686.2 221.7 689.6 223.3 692.8 C224.9 696.0 226.1 697.4 227.6 702.4 C229.1 707.4 229.6 713.7 232.5 722.5 C235.4 731.3 241.4 745.1 245.0 755.0 C248.6 764.9 251.2 773.7 254.0 782.0 C256.8 790.3 259.3 797.8 262.0 805.0 C264.7 812.2 267.7 820.2 270.0 825.0 C272.3 829.8 273.3 831.9 276.0 834.0 C278.7 836.1 282.7 837.8 286.0 837.5 C289.3 837.2 293.2 834.2 296.0 832.0 C298.8 829.8 300.7 826.8 303.0 824.0 C305.3 821.2 307.7 818.0 310.0 815.0 C312.3 812.0 314.7 808.7 317.0 806.0 C319.3 803.3 321.8 801.3 324.0 799.0 C326.2 796.7 327.3 795.7 330.0 792.0 C332.7 788.3 335.8 782.8 340.0 777.0 C344.2 771.2 350.4 762.8 355.0 757.5 C359.6 752.2 363.8 749.0 367.5 745.0 C371.2 741.0 372.5 736.4 377.5 733.7 C382.5 731.0 391.2 729.1 397.5 728.7 C403.8 728.3 408.8 731.4 415.0 731.2 C421.2 731.0 427.5 728.5 435.0 727.5 C442.5 726.5 447.5 725.4 460.0 725.0 C472.5 724.6 497.5 725.4 510.0 725.0 C522.5 724.6 526.7 723.1 535.0 722.5 C543.3 721.9 549.2 721.0 560.0 721.2 C570.8 721.5 585.0 723.0 600.0 724.0 C615.0 725.0 633.3 726.8 650.0 727.0 C666.7 727.2 683.2 725.3 700.0 725.0 C716.8 724.7 742.5 725.0 751.0 725.0" fill="none" stroke="#c81a6a" stroke-width="2.20" stroke-dasharray="5 4.5" stroke-linejoin="round" />
<path d="M176.0 623.4 C176.8 624.5 178.8 627.1 180.5 629.8 C182.2 632.5 183.9 636.2 185.9 639.4 C187.9 642.6 190.2 646.0 192.3 649.0 C194.4 652.0 196.6 654.8 198.7 657.6 C200.8 660.5 203.0 663.2 205.1 666.1 C207.2 669.0 209.4 671.9 211.5 674.7 C213.6 677.6 215.9 680.4 217.9 683.2 C219.9 686.1 221.7 688.6 223.3 691.8 C224.9 695.0 226.1 697.7 227.6 702.4 C229.1 707.1 230.0 712.5 232.5 720.0 C235.0 727.5 239.2 738.8 242.5 747.5 C245.8 756.2 249.2 765.8 252.0 772.0 C254.8 778.2 256.7 781.3 259.0 785.0 C261.3 788.7 263.5 791.5 266.0 794.0 C268.5 796.5 271.2 798.7 274.0 800.0 C276.8 801.3 279.5 802.2 283.0 802.0 C286.5 801.8 291.2 800.0 295.0 799.0 C298.8 798.0 302.7 797.2 306.0 796.0 C309.3 794.8 312.0 793.8 315.0 792.0 C318.0 790.2 321.5 787.2 324.0 785.0 C326.5 782.8 328.2 781.1 330.0 779.0 C331.8 776.9 331.7 776.1 335.0 772.5 C338.3 768.9 345.0 762.1 350.0 757.5 C355.0 752.9 361.2 747.9 365.0 745.0 C368.8 742.1 368.8 742.5 372.5 740.0 C376.2 737.5 382.1 732.9 387.5 730.0 C392.9 727.1 399.2 724.0 405.0 722.5 C410.8 721.0 415.4 721.2 422.5 721.2 C429.6 721.2 439.2 722.1 447.5 722.5 C455.8 722.9 464.2 723.3 472.5 723.7 C480.8 724.1 489.2 724.4 497.5 725.0 C505.8 725.6 512.1 726.9 522.5 727.5 C532.9 728.1 547.1 728.8 560.0 728.7 C572.9 728.6 585.0 727.5 600.0 727.0 C615.0 726.5 633.3 726.2 650.0 726.0 C666.7 725.8 683.2 725.5 700.0 725.5 C716.8 725.5 742.5 725.9 751.0 726.0" fill="none" stroke="#1f8acb" stroke-width="2.20" stroke-dasharray="5 4.5" stroke-linejoin="round" />
<path d="M176.0 696.0 C176.8 694.8 179.0 692.0 180.5 688.5 C182.0 685.0 183.4 678.2 184.8 674.7 C186.2 671.2 187.7 668.8 189.1 667.2 C190.5 665.6 192.0 665.0 193.4 665.0 C194.8 665.0 196.0 665.4 197.6 667.2 C199.2 669.0 201.2 672.9 203.0 675.7 C204.8 678.6 206.5 681.4 208.3 684.3 C210.1 687.1 211.9 690.1 213.7 692.8 C215.5 695.5 217.2 697.6 219.0 700.3 C220.8 703.0 222.4 704.7 224.4 708.8 C226.4 712.9 228.6 719.0 231.2 725.0 C233.8 731.0 236.9 738.3 240.0 745.0 C243.1 751.7 246.3 758.7 250.0 765.0 C253.7 771.3 258.7 778.5 262.0 783.0 C265.3 787.5 267.3 789.5 270.0 792.0 C272.7 794.5 275.0 796.5 278.0 798.0 C281.0 799.5 284.7 801.0 288.0 801.0 C291.3 801.0 295.0 799.5 298.0 798.0 C301.0 796.5 303.3 794.7 306.0 792.0 C308.7 789.3 311.3 785.2 314.0 782.0 C316.7 778.8 318.9 776.2 322.0 773.0 C325.1 769.8 328.7 766.1 332.5 762.5 C336.3 758.9 340.4 755.4 345.0 751.2 C349.6 747.0 355.8 741.0 360.0 737.5 C364.2 734.0 366.7 732.1 370.0 730.0 C373.3 727.9 375.4 726.2 380.0 725.0 C384.6 723.8 388.3 722.9 397.5 722.5 C406.7 722.1 420.4 722.3 435.0 722.5 C449.6 722.7 464.2 723.7 485.0 723.7 C505.8 723.7 540.8 722.5 560.0 722.5 C579.2 722.5 585.0 723.6 600.0 724.0 C615.0 724.4 633.3 724.8 650.0 725.0 C666.7 725.2 683.2 725.0 700.0 725.0 C716.8 725.0 742.5 725.0 751.0 725.0" fill="none" stroke="#32207e" stroke-width="2.20" stroke-dasharray="5 4.5" stroke-linejoin="round" />
<path d="M176.0 692.8 C176.8 689.4 179.0 680.3 180.5 672.5 C182.0 664.7 183.4 654.3 184.8 645.8 C186.2 637.2 187.7 627.8 189.1 621.2 C190.5 614.6 192.0 609.6 193.4 606.3 C194.8 603.0 196.2 601.9 197.6 601.5 C199.0 601.1 200.3 602.4 201.9 604.1 C203.5 605.8 205.3 609.3 207.3 611.6 C209.3 613.9 211.9 616.0 213.7 618.0 C215.5 620.0 216.5 620.9 217.9 623.4 C219.3 625.9 220.6 629.8 222.2 633.0 C223.8 636.2 225.6 640.3 227.6 642.6 C229.6 644.9 231.9 645.3 234.0 646.9 C236.1 648.5 238.3 650.1 240.4 652.2 C242.5 654.3 244.4 656.7 246.8 659.7 C249.2 662.7 252.4 666.6 255.0 670.0 C257.6 673.4 260.0 676.7 262.5 680.0 C265.0 683.3 267.9 687.7 270.0 690.0 C272.1 692.3 272.1 692.7 275.0 693.7 C277.9 694.7 283.8 694.7 287.5 696.2 C291.2 697.7 293.8 700.0 297.5 702.5 C301.2 705.0 306.2 707.7 310.0 711.2 C313.8 714.7 316.2 720.6 320.0 723.7 C323.8 726.8 327.5 728.0 332.5 730.0 C337.5 732.0 344.6 733.3 350.0 736.0 C355.4 738.7 359.2 744.3 365.0 746.0 C370.8 747.7 377.5 746.0 385.0 746.2 C392.5 746.5 402.9 747.5 410.0 747.5 C417.1 747.5 421.2 747.9 427.5 746.2 C433.8 744.5 440.0 740.0 447.5 737.5 C455.0 735.0 464.2 732.7 472.5 731.2 C480.8 729.7 489.2 728.9 497.5 728.7 C505.8 728.5 514.6 730.3 522.5 730.0 C530.4 729.7 535.4 727.7 545.0 727.0 C554.6 726.3 567.5 726.1 580.0 726.0 C592.5 725.9 606.7 726.3 620.0 726.5 C633.3 726.7 646.7 727.2 660.0 727.0 C673.3 726.8 684.8 725.2 700.0 725.0 C715.2 724.8 742.5 725.8 751.0 726.0" fill="none" stroke="#4c9876" stroke-width="2.20" stroke-linejoin="round" />
<path d="M176.0 627.6 C176.8 626.9 178.5 625.2 180.5 623.4 C182.5 621.6 185.5 618.7 188.0 617.0 C190.5 615.3 193.3 614.2 195.5 613.2 C197.7 612.2 199.6 611.0 201.4 611.1 C203.2 611.2 204.5 612.3 206.2 613.8 C207.9 615.3 209.7 617.7 211.5 620.2 C213.3 622.7 215.1 625.9 216.9 628.7 C218.7 631.6 220.4 633.9 222.2 637.3 C224.0 640.7 225.8 644.5 227.6 649.0 C229.4 653.5 231.1 659.7 232.9 664.0 C234.7 668.3 236.2 671.7 238.2 674.7 C240.1 677.7 242.3 678.8 244.6 682.1 C246.9 685.4 249.0 691.5 252.0 694.5 C255.0 697.5 258.7 698.7 262.5 700.0 C266.3 701.3 270.4 701.7 275.0 702.5 C279.6 703.3 285.4 703.8 290.0 705.0 C294.6 706.2 298.3 707.5 302.5 710.0 C306.7 712.5 311.2 716.9 315.0 720.0 C318.8 723.1 320.8 726.6 325.0 728.7 C329.2 730.8 335.0 731.0 340.0 732.5 C345.0 734.0 350.0 736.2 355.0 737.5 C360.0 738.8 364.2 738.9 370.0 740.0 C375.8 741.1 383.3 743.0 390.0 744.0 C396.7 745.0 403.8 745.6 410.0 746.2 C416.2 746.8 421.2 748.3 427.5 747.5 C433.8 746.7 440.4 743.6 447.5 741.2 C454.6 738.8 461.2 735.2 470.0 733.0 C478.8 730.8 490.0 729.2 500.0 728.0 C510.0 726.8 520.0 726.2 530.0 725.5 C540.0 724.8 548.3 724.0 560.0 724.0 C571.7 724.0 585.0 725.3 600.0 725.5 C615.0 725.7 633.3 725.1 650.0 725.0 C666.7 724.9 683.2 725.0 700.0 725.0 C716.8 725.0 742.5 725.0 751.0 725.0" fill="none" stroke="#da1656" stroke-width="2.20" stroke-linejoin="round" />
<path d="M176.0 664.0 C176.8 662.9 178.8 660.1 180.5 657.6 C182.2 655.1 184.1 652.2 185.9 649.0 C187.7 645.8 189.4 641.3 191.2 638.3 C193.0 635.3 194.8 632.8 196.6 630.9 C198.4 629.0 200.1 627.3 201.9 626.6 C203.7 625.9 205.5 626.2 207.3 626.6 C209.1 627.0 210.8 627.6 212.6 628.7 C214.4 629.8 216.1 631.2 217.9 633.0 C219.7 634.8 221.5 636.9 223.3 639.4 C225.1 641.9 226.8 644.9 228.6 647.9 C230.4 650.9 232.2 654.2 234.0 657.6 C235.8 661.0 237.4 665.0 239.3 668.2 C241.2 671.4 243.6 673.9 245.7 676.8 C247.8 679.6 250.0 682.3 252.0 685.3 C254.0 688.3 254.5 692.1 257.5 695.0 C260.5 697.9 265.4 700.8 270.0 702.5 C274.6 704.2 280.0 704.0 285.0 705.0 C290.0 706.0 295.0 707.0 300.0 708.7 C305.0 710.4 310.0 712.7 315.0 715.0 C320.0 717.3 325.0 720.0 330.0 722.5 C335.0 725.0 340.0 727.5 345.0 730.0 C350.0 732.5 355.8 735.8 360.0 737.5 C364.2 739.2 365.8 739.0 370.0 740.0 C374.2 741.0 378.3 742.9 385.0 743.7 C391.7 744.5 401.7 745.4 410.0 745.0 C418.3 744.6 426.7 743.3 435.0 741.2 C443.3 739.1 451.7 734.8 460.0 732.5 C468.3 730.2 476.7 728.5 485.0 727.5 C493.3 726.5 497.5 726.6 510.0 726.2 C522.5 725.8 545.0 725.2 560.0 725.0 C575.0 724.8 585.0 725.0 600.0 725.0 C615.0 725.0 633.3 725.1 650.0 725.0 C666.7 724.9 683.2 724.5 700.0 724.5 C716.8 724.5 742.5 724.9 751.0 725.0" fill="none" stroke="#32207e" stroke-width="2.20" stroke-linejoin="round" />
<path d="M176.0 595.6 C176.8 596.3 178.8 597.8 180.5 599.9 C182.2 602.0 184.1 605.5 185.9 608.4 C187.7 611.2 189.4 614.5 191.2 617.0 C193.0 619.5 194.8 622.0 196.6 623.4 C198.4 624.8 200.1 625.1 201.9 625.5 C203.7 625.9 205.2 625.1 207.3 625.5 C209.4 625.9 212.6 626.5 214.7 627.6 C216.8 628.7 218.3 629.9 220.1 631.9 C221.9 633.9 223.6 637.1 225.4 639.4 C227.2 641.7 228.7 642.9 230.8 645.8 C232.9 648.6 235.9 653.1 238.2 656.5 C240.5 659.9 242.3 663.1 244.6 666.1 C246.9 669.1 249.8 672.1 252.0 674.7 C254.2 677.4 255.8 678.6 258.0 682.0 C260.2 685.4 261.8 691.2 265.0 695.0 C268.2 698.8 273.3 702.9 277.5 705.0 C281.7 707.1 286.2 706.9 290.0 707.5 C293.8 708.1 296.2 707.5 300.0 708.7 C303.8 710.0 308.3 712.1 312.5 715.0 C316.7 717.9 320.4 722.5 325.0 726.2 C329.6 730.0 335.4 734.8 340.0 737.5 C344.6 740.2 348.3 741.8 352.5 742.5 C356.7 743.2 357.5 741.8 365.0 742.0 C372.5 742.2 387.9 743.8 397.5 743.7 C407.1 743.6 414.2 743.1 422.5 741.2 C430.8 739.3 439.2 734.6 447.5 732.5 C455.8 730.4 463.8 729.6 472.5 728.7 C481.2 727.8 490.4 727.5 500.0 727.0 C509.6 726.5 520.0 725.8 530.0 725.5 C540.0 725.2 548.3 725.0 560.0 725.0 C571.7 725.0 588.3 725.7 600.0 725.5 C611.7 725.3 621.7 724.4 630.0 724.0 C638.3 723.6 638.3 723.4 650.0 723.3 C661.7 723.2 686.7 723.1 700.0 723.3 C713.3 723.5 721.5 724.2 730.0 724.5 C738.5 724.8 747.5 724.9 751.0 725.0" fill="none" stroke="#1d84c8" stroke-width="2.20" stroke-linejoin="round" />
</g>
<line x1="184.6" y1="1090.5" x2="200.2" y2="1090.5" stroke="#000" stroke-width="2.00" />
<line x1="184.6" y1="1355.5" x2="200.2" y2="1355.5" stroke="#000" stroke-width="2.00" />
<line x1="184.6" y1="1156.8" x2="194.6" y2="1156.8" stroke="#000" stroke-width="2.00" />
<line x1="184.6" y1="1289.2" x2="194.6" y2="1289.2" stroke="#000" stroke-width="2.00" />
<line x1="224.8" y1="1421.5" x2="224.8" y2="1412.3" stroke="#000" stroke-width="2.00" />
<line x1="264.9" y1="1421.5" x2="264.9" y2="1406.5" stroke="#000" stroke-width="2.00" />
<line x1="305.0" y1="1421.5" x2="305.0" y2="1412.3" stroke="#000" stroke-width="2.00" />
<line x1="345.2" y1="1421.5" x2="345.2" y2="1406.5" stroke="#000" stroke-width="2.00" />
<line x1="385.3" y1="1421.5" x2="385.3" y2="1412.3" stroke="#000" stroke-width="2.00" />
<line x1="425.5" y1="1421.5" x2="425.5" y2="1406.5" stroke="#000" stroke-width="2.00" />
<line x1="465.6" y1="1421.5" x2="465.6" y2="1412.3" stroke="#000" stroke-width="2.00" />
<line x1="505.8" y1="1421.5" x2="505.8" y2="1406.5" stroke="#000" stroke-width="2.00" />
<line x1="545.9" y1="1421.5" x2="545.9" y2="1412.3" stroke="#000" stroke-width="2.00" />
<line x1="586.1" y1="1421.5" x2="586.1" y2="1406.5" stroke="#000" stroke-width="2.00" />
<line x1="626.2" y1="1421.5" x2="626.2" y2="1412.3" stroke="#000" stroke-width="2.00" />
<line x1="666.4" y1="1421.5" x2="666.4" y2="1406.5" stroke="#000" stroke-width="2.00" />
<line x1="706.5" y1="1421.5" x2="706.5" y2="1412.3" stroke="#000" stroke-width="2.00" />
<rect x="184.6" y="1024.8" width="562.0" height="396.7" fill="none" stroke="#000" stroke-width="2"/>
<line x1="184.6" y1="1223.0" x2="746.6" y2="1223.0" stroke="#000" stroke-width="2.30" />
<text x="179.4" y="1033.8" font-size="21.5" font-weight="normal" text-anchor="end" fill="#111" >15</text>
<text x="179.4" y="1100.0" font-size="21.5" font-weight="normal" text-anchor="end" fill="#111" >10</text>
<text x="179.4" y="1232.5" font-size="21.5" font-weight="normal" text-anchor="end" fill="#111" >0</text>
<text x="179.4" y="1365.0" font-size="21.5" font-weight="normal" text-anchor="end" fill="#111" >-10</text>
<text x="179.4" y="1431.2" font-size="21.5" font-weight="normal" text-anchor="end" fill="#111" >-15</text>
<text x="184.3" y="1453.9" font-size="21.5" font-weight="normal" text-anchor="middle" fill="#111" >180</text>
<text x="264.6" y="1453.9" font-size="21.5" font-weight="normal" text-anchor="middle" fill="#111" >190</text>
<text x="344.9" y="1453.9" font-size="21.5" font-weight="normal" text-anchor="middle" fill="#111" >200</text>
<text x="425.2" y="1453.9" font-size="21.5" font-weight="normal" text-anchor="middle" fill="#111" >210</text>
<text x="505.5" y="1453.9" font-size="21.5" font-weight="normal" text-anchor="middle" fill="#111" >220</text>
<text x="585.8" y="1453.9" font-size="21.5" font-weight="normal" text-anchor="middle" fill="#111" >230</text>
<text x="666.1" y="1453.9" font-size="21.5" font-weight="normal" text-anchor="middle" fill="#111" >240</text>
<text x="746.4" y="1453.9" font-size="21.5" font-weight="normal" text-anchor="middle" fill="#111" >250</text>
<text x="47.3" y="1233.2" font-size="24.2" font-weight="bold" text-anchor="start" fill="#0d0d0d" >Mol. CD</text>
<text x="409.4" y="1482.2" font-size="23.5" font-weight="bold" text-anchor="start" fill="#0d0d0d" >Wavelength [nm]</text>
<text x="672.0" y="1354.0" font-size="35.0" font-weight="bold" text-anchor="start" fill="#151515" >c</text>
<path d="M572 1055.2 L621 1055.2" fill="none" stroke="#cf2a2a" stroke-width="2.20" stroke-dasharray="10.5 2.3 2 2" stroke-linejoin="round" />
<path d="M572 1089.2 L621 1089.2" fill="none" stroke="#cf2a2a" stroke-width="2.20" stroke-linejoin="round" />
<path d="M572.2 1122.8 L619 1122.8" fill="none" stroke="#cf2a2a" stroke-width="1.70" stroke-dasharray="1.5 5.1" stroke-linejoin="round" />
<path d="M572.2 1153.8 L621 1153.8" fill="none" stroke="#cf2a2a" stroke-width="2.20" stroke-dasharray="10.5 9.6 1.5 8.5 1.5 10" stroke-linejoin="round" />
<text x="702.0" y="1065.3" font-size="21.5" font-weight="normal" text-anchor="end" fill="#1a1a1a" >4.5 µM</text>
<text x="702.0" y="1098.4" font-size="21.5" font-weight="normal" text-anchor="end" fill="#1a1a1a" >80 µM</text>
<text x="702.0" y="1131.0" font-size="21.5" font-weight="normal" text-anchor="end" fill="#1a1a1a" >200 µM</text>
<text x="702.0" y="1163.5" font-size="21.5" font-weight="normal" text-anchor="end" fill="#1a1a1a" >450 µM</text>
<clipPath id="clipC"><rect x="185.6" y="1025.8" width="560" height="394.7"/></clipPath>
<g clip-path="url(#clipC)">
<path d="M306.0 1226.0 C306.7 1226.7 308.7 1224.3 310.0 1230.0 C311.3 1235.7 312.8 1250.0 314.0 1260.0 C315.2 1270.0 315.8 1281.2 317.2 1290.0 C318.6 1298.8 320.6 1305.5 322.5 1312.5 C324.4 1319.5 326.4 1327.7 328.4 1331.9 C330.4 1336.1 332.6 1337.4 334.4 1337.9 C336.1 1338.4 337.1 1336.2 338.9 1334.9 C340.6 1333.7 342.1 1331.5 344.9 1330.4 C347.6 1329.4 352.4 1329.8 355.4 1328.6 C358.4 1327.3 360.4 1325.8 362.9 1322.9 C365.4 1320.0 367.4 1313.9 370.4 1311.0 C373.4 1308.1 377.1 1307.7 380.8 1305.7 C384.5 1303.7 389.3 1301.2 392.8 1299.0 C396.3 1296.8 399.6 1294.4 401.8 1292.2 C404.0 1290.0 403.6 1289.7 406.0 1286.0 C408.4 1282.3 412.7 1273.7 416.0 1270.0 C419.3 1266.3 421.6 1267.1 426.0 1264.0 C430.4 1260.9 437.8 1255.4 442.7 1251.4 C447.6 1247.4 451.2 1242.6 455.4 1239.8 C459.6 1237.0 464.6 1234.8 468.1 1234.5 C471.6 1234.2 473.4 1236.3 476.6 1237.7 C479.8 1239.1 484.0 1243.2 487.2 1243.0 C490.4 1242.8 492.9 1239.6 495.7 1236.6 C498.5 1233.6 501.4 1226.2 504.2 1225.0 C507.0 1223.8 509.4 1227.5 512.6 1229.2 C515.8 1231.0 519.3 1234.5 523.2 1235.5 C527.1 1236.5 531.7 1235.8 535.9 1235.5 C540.1 1235.2 544.4 1233.6 548.6 1233.4 C552.9 1233.2 557.1 1235.4 561.4 1234.5 C565.6 1233.6 569.9 1229.3 574.1 1228.1 C578.3 1226.9 582.6 1226.9 586.8 1227.1 C591.0 1227.3 594.0 1229.4 599.5 1229.2 C605.0 1229.0 611.6 1226.9 620.0 1226.0 C628.4 1225.1 640.0 1224.5 650.0 1224.0 C660.0 1223.5 670.0 1223.3 680.0 1223.0 C690.0 1222.7 699.0 1222.7 710.0 1222.0 C721.0 1221.3 740.0 1219.5 746.0 1219.0" fill="none" stroke="#d83030" stroke-width="1.40" stroke-dasharray="1.4 2.2" stroke-linejoin="round" />
<path d="M305.2 1302.7 C306.8 1308.1 312.1 1325.4 315.0 1335.0 C317.9 1344.6 319.8 1353.2 322.5 1360.4 C325.2 1367.6 328.2 1372.7 331.4 1378.3 C334.6 1383.9 339.5 1391.2 341.9 1394.0 C344.3 1396.8 344.5 1395.1 346.0 1395.0 C347.5 1394.9 348.1 1396.6 350.9 1393.3 C353.7 1390.0 358.4 1381.5 362.9 1375.3 C367.4 1369.1 373.6 1361.6 377.8 1355.9 C382.0 1350.2 385.1 1345.9 388.3 1340.9 C391.6 1335.9 394.3 1330.4 397.3 1325.9 C400.3 1321.4 403.3 1317.6 406.3 1314.0 C409.3 1310.4 412.4 1307.9 415.3 1304.2 C418.2 1300.5 421.6 1295.9 424.0 1292.0 C426.4 1288.1 426.9 1284.8 430.0 1281.0 C433.1 1277.2 438.1 1272.9 442.7 1269.4 C447.3 1265.9 453.3 1262.5 457.5 1259.9 C461.7 1257.3 463.9 1255.1 468.1 1253.6 C472.4 1252.1 478.4 1252.2 483.0 1251.0 C487.6 1249.8 491.5 1248.1 495.7 1246.1 C499.9 1244.0 504.5 1240.1 508.4 1238.7 C512.3 1237.3 515.8 1237.4 519.0 1237.7 C522.2 1238.0 524.3 1239.9 527.5 1240.8 C530.7 1241.7 534.6 1243.2 538.1 1243.0 C541.6 1242.8 544.7 1241.0 548.6 1239.8 C552.5 1238.5 556.5 1236.6 561.4 1235.5 C566.3 1234.4 573.4 1233.6 578.3 1233.4 C583.2 1233.2 587.5 1234.3 591.0 1234.5 C594.5 1234.7 594.7 1235.2 599.5 1234.5 C604.3 1233.8 611.6 1231.2 620.0 1230.0 C628.4 1228.8 640.0 1227.8 650.0 1227.0 C660.0 1226.2 670.0 1225.5 680.0 1225.0 C690.0 1224.5 699.0 1224.5 710.0 1224.0 C721.0 1223.5 740.0 1222.3 746.0 1222.0" fill="none" stroke="#cf2a2a" stroke-width="2.30" stroke-dasharray="9 4 2.5 4" stroke-linejoin="round" />
<path d="M199.4 1025.0 C199.6 1029.2 200.2 1040.4 200.5 1050.0 C200.8 1059.6 201.2 1072.5 201.5 1082.5 C201.8 1092.5 202.2 1100.4 202.5 1110.0 C202.8 1119.6 203.1 1130.8 203.5 1140.0 C203.9 1149.2 204.5 1158.3 205.0 1165.0 C205.5 1171.7 205.8 1175.1 206.5 1180.0 C207.2 1184.9 208.1 1193.2 209.0 1194.5 C209.9 1195.8 211.2 1191.2 212.0 1188.0 C212.8 1184.8 213.2 1181.3 214.0 1175.0 C214.8 1168.7 216.0 1157.0 217.0 1150.0 C218.0 1143.0 219.0 1138.0 220.0 1133.0 C221.0 1128.0 222.0 1123.0 223.0 1120.0 C224.0 1117.0 224.5 1116.8 226.0 1115.0 C227.5 1113.2 230.3 1109.0 232.0 1109.0 C233.7 1109.0 234.8 1112.3 236.0 1115.0 C237.2 1117.7 237.8 1121.7 239.0 1125.0 C240.2 1128.3 241.7 1131.2 243.0 1135.0 C244.3 1138.8 245.7 1145.3 247.0 1148.0 C248.3 1150.7 249.7 1150.0 251.0 1151.0 C252.3 1152.0 253.7 1153.8 255.0 1154.0 C256.3 1154.2 257.3 1152.2 259.0 1152.0 C260.7 1151.8 262.8 1152.0 265.0 1153.0 C267.2 1154.0 269.8 1154.8 272.0 1158.0 C274.2 1161.2 276.0 1166.0 278.0 1172.0 C280.0 1178.0 282.3 1188.3 284.0 1194.0 C285.7 1199.7 286.3 1202.0 288.0 1206.0 C289.7 1210.0 292.0 1214.0 294.0 1218.0 C296.0 1222.0 298.0 1227.7 300.0 1230.0 C302.0 1232.3 304.0 1231.7 306.0 1232.0 C308.0 1232.3 309.7 1230.7 312.0 1232.0 C314.3 1233.3 317.0 1237.0 320.0 1240.0 C323.0 1243.0 327.0 1245.7 330.0 1250.0 C333.0 1254.3 336.0 1262.7 338.0 1266.0 C340.0 1269.3 340.0 1271.0 342.0 1270.0 C344.0 1269.0 347.0 1262.5 350.0 1260.0 C353.0 1257.5 357.0 1258.0 360.0 1255.0 C363.0 1252.0 365.7 1245.0 368.0 1242.0 C370.3 1239.0 372.0 1236.7 374.0 1237.0 C376.0 1237.3 377.7 1240.5 380.0 1244.0 C382.3 1247.5 385.3 1257.7 388.0 1258.0 C390.7 1258.3 393.3 1249.8 396.0 1246.0 C398.7 1242.2 401.3 1236.8 404.0 1235.0 C406.7 1233.2 409.3 1236.2 412.0 1235.0 C414.7 1233.8 417.3 1229.5 420.0 1228.0 C422.7 1226.5 424.9 1225.6 428.0 1226.0 C431.1 1226.4 435.7 1230.5 438.5 1230.3 C441.3 1230.1 442.7 1228.2 444.8 1225.0 C446.9 1221.8 449.1 1214.6 451.2 1211.2 C453.3 1207.8 455.4 1204.8 457.5 1204.8 C459.6 1204.8 461.4 1208.0 463.9 1211.2 C466.4 1214.4 469.2 1220.9 472.4 1223.9 C475.6 1226.9 479.8 1228.5 483.0 1229.2 C486.2 1229.9 488.9 1230.0 491.4 1228.1 C493.9 1226.1 495.7 1220.3 497.8 1217.5 C499.9 1214.7 502.1 1211.9 504.2 1211.2 C506.3 1210.5 508.0 1212.1 510.5 1213.3 C513.0 1214.5 515.8 1216.8 519.0 1218.6 C522.2 1220.4 526.8 1222.5 529.6 1223.9 C532.4 1225.3 533.4 1227.4 535.9 1227.1 C538.4 1226.8 541.6 1223.8 544.4 1221.8 C547.2 1219.8 550.8 1216.5 552.9 1215.4 C555.0 1214.3 555.3 1213.9 557.1 1215.0 C558.9 1216.1 560.7 1219.8 563.5 1221.8 C566.3 1223.8 570.9 1226.8 574.1 1227.1 C577.3 1227.4 579.0 1223.7 582.5 1223.9 C586.0 1224.1 590.7 1228.1 595.3 1228.1 C599.9 1228.1 605.0 1225.5 610.0 1224.0 C615.0 1222.5 620.0 1219.3 625.0 1219.0 C630.0 1218.7 635.0 1220.8 640.0 1222.0 C645.0 1223.2 650.3 1226.8 655.0 1226.0 C659.7 1225.2 663.8 1218.3 668.0 1217.0 C672.2 1215.7 675.5 1217.2 680.0 1218.0 C684.5 1218.8 690.0 1221.8 695.0 1222.0 C700.0 1222.2 705.0 1219.0 710.0 1219.0 C715.0 1219.0 719.0 1222.8 725.0 1222.0 C731.0 1221.2 742.5 1215.3 746.0 1214.0" fill="none" stroke="#cf2a2a" stroke-width="2.30" stroke-dasharray="12 5 2.5 5" stroke-linejoin="round" />
<path d="M184.6 1072.0 C185.1 1075.2 186.8 1086.3 187.5 1091.0 C188.2 1095.7 188.2 1095.5 189.0 1100.0 C189.8 1104.5 191.2 1114.3 192.0 1118.0 C192.8 1121.7 193.2 1120.3 194.0 1122.0 C194.8 1123.7 195.8 1124.2 197.0 1128.0 C198.2 1131.8 199.7 1139.7 201.0 1145.0 C202.3 1150.3 203.8 1155.8 205.0 1160.0 C206.2 1164.2 207.0 1167.8 208.0 1170.0 C209.0 1172.2 210.1 1172.7 211.0 1173.0 C211.9 1173.3 212.5 1174.5 213.5 1172.0 C214.5 1169.5 215.8 1163.3 217.0 1158.0 C218.2 1152.7 219.5 1145.3 221.0 1140.0 C222.5 1134.7 224.3 1128.0 226.0 1126.0 C227.7 1124.0 229.3 1127.0 231.0 1128.0 C232.7 1129.0 234.3 1131.8 236.0 1132.0 C237.7 1132.2 239.0 1130.8 241.0 1129.0 C243.0 1127.2 245.8 1121.5 248.0 1121.0 C250.2 1120.5 252.3 1122.8 254.0 1126.0 C255.7 1129.2 256.7 1134.3 258.0 1140.0 C259.3 1145.7 260.7 1153.3 262.0 1160.0 C263.3 1166.7 264.7 1172.3 266.0 1180.0 C267.3 1187.7 268.3 1200.8 270.0 1206.0 C271.7 1211.2 273.7 1211.3 276.0 1211.0 C278.3 1210.7 281.7 1203.5 284.0 1204.0 C286.3 1204.5 288.3 1209.7 290.0 1214.0 C291.7 1218.3 292.3 1223.7 294.0 1230.0 C295.7 1236.3 298.2 1247.2 300.0 1252.0 C301.8 1256.8 303.3 1258.5 305.0 1259.0 C306.7 1259.5 308.0 1256.3 310.0 1255.0 C312.0 1253.7 314.7 1250.8 317.0 1251.0 C319.3 1251.2 321.8 1252.2 324.0 1256.0 C326.2 1259.8 328.3 1269.0 330.0 1274.0 C331.7 1279.0 332.7 1282.8 334.0 1286.0 C335.3 1289.2 336.3 1293.0 338.0 1293.0 C339.7 1293.0 341.7 1289.0 344.0 1286.0 C346.3 1283.0 349.0 1276.0 352.0 1275.0 C355.0 1274.0 359.0 1279.8 362.0 1280.0 C365.0 1280.2 367.3 1277.5 370.0 1276.0 C372.7 1274.5 374.7 1271.2 378.0 1271.0 C381.3 1270.8 386.3 1276.5 390.0 1275.0 C393.7 1273.5 396.7 1265.8 400.0 1262.0 C403.3 1258.2 406.3 1255.0 410.0 1252.0 C413.7 1249.0 418.3 1245.2 422.0 1244.0 C425.7 1242.8 429.2 1244.7 432.0 1244.5 C434.8 1244.3 436.0 1245.0 438.5 1243.0 C441.0 1241.0 444.5 1234.9 447.0 1232.4 C449.5 1229.9 450.5 1228.6 453.3 1228.1 C456.1 1227.6 460.7 1229.2 463.9 1229.2 C467.1 1229.2 469.9 1229.0 472.4 1228.1 C474.9 1227.1 475.9 1224.2 478.7 1223.5 C481.5 1222.8 486.1 1224.2 489.3 1223.9 C492.5 1223.6 494.3 1223.0 497.8 1221.8 C501.3 1220.6 506.6 1217.0 510.5 1216.5 C514.4 1216.0 517.6 1217.4 521.1 1218.6 C524.6 1219.8 528.2 1222.3 531.7 1223.9 C535.2 1225.5 538.8 1227.9 542.3 1228.1 C545.8 1228.3 549.0 1225.9 552.9 1225.0 C556.8 1224.1 561.7 1223.7 565.6 1222.8 C569.5 1221.9 572.7 1219.5 576.2 1219.7 C579.7 1219.9 582.9 1222.9 586.8 1223.9 C590.7 1225.0 596.9 1226.3 599.5 1226.0 C602.1 1225.7 599.7 1223.3 602.7 1221.8 C605.7 1220.3 612.5 1217.8 617.5 1217.1 C622.5 1216.4 627.8 1216.7 632.4 1217.5 C637.0 1218.3 639.8 1221.1 645.1 1221.8 C650.4 1222.5 657.5 1222.1 664.2 1221.8 C670.9 1221.5 679.3 1220.6 685.3 1219.7 C691.3 1218.8 695.6 1216.6 700.2 1216.5 C704.8 1216.4 709.0 1219.5 712.9 1219.2 C716.8 1218.9 719.6 1214.9 723.5 1214.4 C727.4 1214.0 732.5 1217.7 736.2 1216.5 C739.9 1215.3 744.1 1208.6 745.7 1207.0" fill="none" stroke="#ea1c22" stroke-width="2.30" stroke-linejoin="round" />
</g>
</svg></body></html>
